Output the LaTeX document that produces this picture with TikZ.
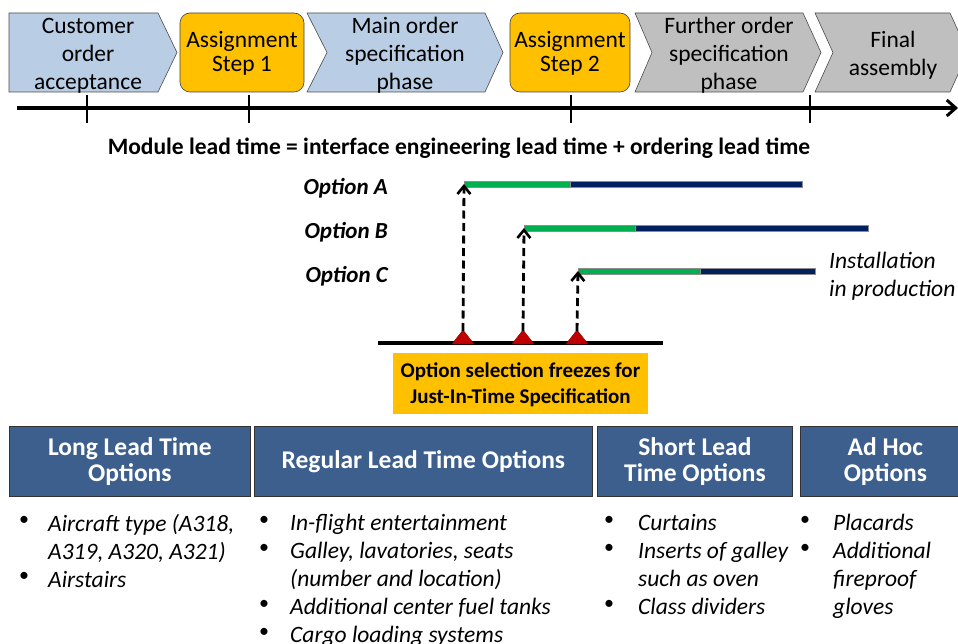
\documentclass[tikz,border=0pt]{standalone}
\usepackage{fontspec}
\setmainfont{Carlito}
\usetikzlibrary{arrows.meta}
\definecolor{chevblue}{HTML}{B9CDE5}
\definecolor{chevgray}{HTML}{BFBFBF}
\definecolor{stepor}{HTML}{FFC000}
\definecolor{hdrblue}{HTML}{3C5F8E}
\definecolor{bargreen}{HTML}{00B050}
\definecolor{barnavy}{HTML}{002060}
\definecolor{trired}{HTML}{C00000}
\tikzset{
  chev/.style={draw=black!70, line width=0.6pt},
  phasetxt/.style={align=center, font=\fontsize{23.5}{28}\selectfont, inner sep=0pt},
  stepbox/.style={draw=black!75, line width=0.6pt, fill=stepor, rounded corners=10pt, minimum width=124pt, minimum height=79pt, align=center, font=\fontsize{23.5}{24}\selectfont, inner sep=0pt},
  optlbl/.style={font=\fontsize{23}{24}\selectfont\bfseries\itshape, anchor=east, inner sep=0pt},
  greenbar/.style={draw=black!45, line width=0.5pt, fill=bargreen},
  navybar/.style={draw=black!45, line width=0.5pt, fill=barnavy},
  freezearrow/.style={dashed, dash pattern=on 8pt off 4.5pt, line width=2.8pt, -{Straight Barb[length=8pt,width=13pt,line width=2.6pt]}},
  hdr/.style={draw=black!80, line width=0.8pt, fill=hdrblue, text=white, align=center, font=\fontsize{25.5}{25.5}\selectfont\bfseries, inner sep=0pt, minimum height=70pt, anchor=north west},
  bul/.style={font=\fontsize{23.5}{28}\selectfont\itshape, anchor=north west, inner sep=0pt, align=left},
  dot/.style={font=\fontsize{20}{28}\selectfont, anchor=north west, inner sep=0pt, align=left},
  tick/.style={line width=2.2pt}
}
\begin{document}
\begin{tikzpicture}[x=1pt,y=-1pt]
\useasboundingbox (0,0) rectangle (958,644);
\clip (0,0) rectangle (958,644);
% chevrons
\path[chev, fill=chevblue] (9,13) -- (158,13) -- (177,52.5) -- (158,92) -- (9,92) -- cycle;
\node[phasetxt] (p1) at (88,55.5) {Customer\\order\\acceptance};
\node[stepbox] (s1) at (242,52.5) {};
\node[align=center, font=\fontsize{23.5}{24}\selectfont, inner sep=0pt] (s1t) at (242,53.5) {Assignment\\Step 1};
\path[chev, fill=chevblue] (307,13) -- (485,13) -- (503,52.5) -- (485,92) -- (307,92) -- (327,52.5) -- cycle;
\node[phasetxt] (p2) at (405,55) {Main order\\specification\\phase};
\node[stepbox, minimum width=120pt] (s2) at (570,52.5) {};
\node[align=center, font=\fontsize{23.5}{24}\selectfont, inner sep=0pt] (s2t) at (570,53.5) {Assignment\\Step 2};
\path[chev, fill=chevgray] (635,13) -- (803,13) -- (821,52.5) -- (803,92) -- (635,92) -- (652,52.5) -- cycle;
\node[phasetxt] (p3) at (729,55) {Further order\\specification\\phase};
\path[chev, fill=chevgray] (815,13) -- (950,13) -- (968,52.5) -- (950,92) -- (815,92) -- (833,52.5) -- cycle;
\node[phasetxt] (p4) at (893,55) {Final\\assembly};
% timeline
\coordinate (tl0) at (17,108);
\coordinate (tl1) at (958,108);
\draw[line width=3.6pt, -{Straight Barb[length=9pt,width=16pt,line width=3pt]}] (tl0) -- (tl1);
\foreach \x in {87,249,571,810} \draw[tick] (\x,95) -- (\x,123);
% title
\node[font=\fontsize{23.5}{24}\selectfont\bfseries] (title) at (459,148) {Module lead time = interface engineering lead time + ordering lead time};
% options
\node[optlbl] (oa) at (388,188) {Option A};
\node[optlbl] (ob) at (388,232) {Option B};
\node[optlbl] (oc) at (388,276) {Option C};
\path[greenbar] (464,181) rectangle (570,187);
\path[navybar] (570,181) rectangle (802,187);
\path[greenbar] (524,225) rectangle (635,231);
\path[navybar] (635,225) rectangle (868,231);
\path[greenbar] (578,268) rectangle (700,274);
\path[navybar] (700,268) rectangle (815,274);
\coordinate (ba) at (464,184);
\coordinate (bb) at (524,228);
\coordinate (bc) at (578,271);
\node[font=\fontsize{23.5}{28}\selectfont\itshape, align=left, anchor=west, inner sep=0pt] (inst) at (829,276.5) {Installation\\in production};
% baseline
\draw[line width=4.5pt] (378,343) -- (663,343);
\foreach \n/\x in {ta/463,tb/523,tc/577}{
  \path[fill=trired, draw=trired!70!black, line width=0.4pt] (\x-11,344) -- (\x,330) -- (\x+11,344) -- cycle;
  \coordinate (\n) at (\x,331);
}
\draw[freezearrow] (ta) -- (ba);
\draw[freezearrow] (tb) -- (bb);
\draw[freezearrow] (tc) -- (bc);
\node[fill=stepor, minimum width=255pt, minimum height=61pt, inner sep=0pt] (freeze) at (520.5,383) {};
\node[align=center, inner sep=0pt, font=\fontsize{21}{26}\selectfont\bfseries] (freezet) at (520.5,385) {Option selection freezes for\\Just-In-Time Specification};
% headers
\node[hdr, minimum width=241pt] (h1) at (9,426) {Long Lead Time\\Options};
\node[hdr, minimum width=338pt] (h2) at (254,426) {Regular Lead Time Options};
\node[hdr, minimum width=195pt] (h3) at (597,426) {Short Lead\\Time Options};
\node[hdr, minimum width=170pt] (h4) at (800,426) {Ad Hoc\\Options};
% bullets
\node[dot] (d1) at (19,516) {•\\[0pt]\\•};
\node[bul] (l1) at (48,514) {Aircraft type (A318,\\A319, A320, A321)\\Airstairs};
\node[dot] (d2) at (259,516) {•\\•\\\\•\\•};
\node[bul] (l2) at (290,514) {In-flight entertainment\\Galley, lavatories, seats\\(number and location)\\Additional center fuel tanks\\Cargo loading systems};
\node[dot] (d3) at (604,516) {•\\•\\\\•};
\node[bul] (l3) at (638,514) {Curtains\\Inserts of galley\\such as oven\\Class dividers};
\node[dot] (d4) at (800,516) {•\\•};
\node[bul] (l4) at (833,514) {Placards\\Additional\\fireproof\\gloves};
\end{tikzpicture}
\end{document}
